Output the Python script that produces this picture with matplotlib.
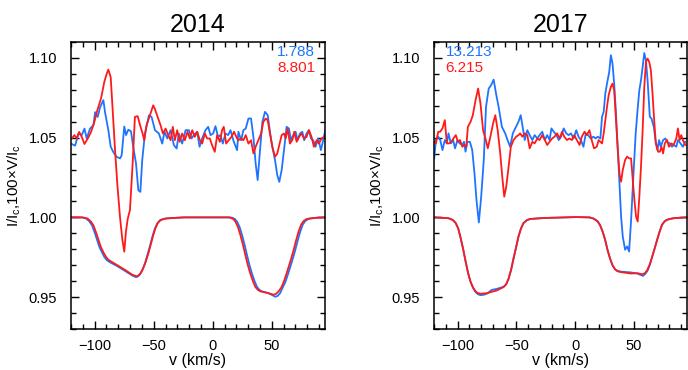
import matplotlib
matplotlib.use("Agg")
from matplotlib import pyplot as plt
from matplotlib.ticker import MultipleLocator

plt.rcParams['font.family'] = 'Liberation Sans'
plt.rcParams['mathtext.fontset'] = 'custom'
plt.rcParams['mathtext.rm'] = 'Liberation Sans'
plt.rcParams['mathtext.it'] = 'Liberation Sans:italic'

BLUE = '#1E74FF'
RED = '#FF1A1A'

# ---------------- 2014 ----------------
# Stokes I (blue / red)
v_I14_b = [-120, -111, -107.2, -104.5, -102.2, -100.2, -98.2, -96, -93.7, -91.8, -89.7, -87.4, -81, -74, -68.5,
           -66.5, -65, -63.3, -61.5, -59.5, -57.4, -55.3, -53.2, -51.1, -49, -47, -44.6, -41.3, -38.5, -24.5,
           0, 14.4, 16.4, 18.7, 20.6, 22.7, 24.8, 26.9, 29, 31.1, 33.2, 35.4, 37.5, 39.6, 41.7, 47, 51, 53, 55,
           57, 59.2, 61.4, 63.5, 65.6, 67.7, 69.8, 71.9, 74, 76.2, 78.3, 80.9, 84, 89, 95]
I14_b = [1.0, 1.0, 0.9993, 0.9975, 0.995, 0.991, 0.9865, 0.9815, 0.978, 0.9752, 0.9732, 0.972, 0.9695, 0.9663,
         0.9637, 0.963, 0.9625, 0.963, 0.9643, 0.967, 0.9712, 0.9765, 0.982, 0.988, 0.993, 0.9962, 0.9982,
         0.9991, 0.9994, 1.0, 1.0, 1.0, 0.9998, 0.999, 0.9973, 0.994, 0.9889, 0.983, 0.9763, 0.970, 0.9647,
         0.96, 0.9563, 0.9545, 0.9536, 0.9525, 0.951, 0.9502, 0.9508, 0.9525, 0.956, 0.9594, 0.964, 0.9689,
         0.974, 0.9794, 0.9855, 0.991, 0.9955, 0.9977, 0.999, 0.9994, 0.9998, 1.0]
v_I14_r = [-120, -110, -106, -103.3, -101, -99, -97, -94.8, -92.5, -90.6, -88.5, -86.4, -80.8, -73.7, -68.1,
           -66, -64.4, -62.8, -61.1, -59, -56.8, -54.7, -52.6, -50.5, -48.4, -46.5, -44.2, -41, -38.5, -24.5,
           0, 13, 15, 17.3, 19.2, 21.3, 23.4, 25.5, 27.6, 29.7, 31.8, 34, 36.1, 38.2, 40.3, 45.9, 51.5, 53.5,
           55.7, 58, 60, 62.1, 64.2, 66.3, 68.4, 70.5, 72.6, 74.8, 76.9, 79.5, 82.5, 88, 95]
I14_r = [1.0, 1.0, 0.9993, 0.9975, 0.995, 0.991, 0.9865, 0.9815, 0.978, 0.9755, 0.9735, 0.9725, 0.970, 0.9668,
         0.964, 0.9635, 0.963, 0.9636, 0.965, 0.968, 0.972, 0.977, 0.9826, 0.9885, 0.9935, 0.9965, 0.9983,
         0.9991, 0.9994, 1.0, 1.0, 1.0, 0.9998, 0.999, 0.9973, 0.994, 0.9889, 0.983, 0.9763, 0.970, 0.9647,
         0.96, 0.9563, 0.9545, 0.9536, 0.9527, 0.9515, 0.952, 0.9536, 0.956, 0.9594, 0.964, 0.9689, 0.974,
         0.9794, 0.9855, 0.991, 0.9955, 0.9977, 0.999, 0.9994, 0.9998, 1.0]

# 1.05 + 100*V/Ic (blue)
v_V14_b = [-119.3, -116.5, -113.7, -110.9, -108.6, -106.7, -103.9, -101.0, -99.6, -97.4, -95.4, -92.6, -91.2,
           -88.4, -86.4, -84.2, -81.4, -78.5, -77.1, -74.9, -73.4, -71.5, -69.2, -67.3, -65.0, -63.0, -61.3,
           -59.7, -57.4, -54.0, -51.8, -48.9, -45.6, -42.8, -40.8, -38.5, -35.7, -32.9, -30.6, -28.7, -25.9,
           -23.0, -20.2, -18.0, -16.0, -13.2, -11.2, -9.0, -6.2, -3.9, -1.9, 0.3, 2.3, 4.5, 6.5, 8.5, 10.7,
           13.0, 15.0, 17.8, 20.6, 21.7, 24.0, 25.9, 27.9, 30.2, 32.4, 34.4, 36.3, 38.0, 40.0, 42.0, 44.2,
           46.5, 48.4, 50.4, 52.7, 54.6, 56.3, 58.3, 60.3, 62.5, 64.5, 66.2, 68.2, 70.1, 71.8, 73.8, 75.8,
           77.4, 79.4, 81.4, 83.1, 85.0, 87.0, 89.3, 91.5, 93.5, 95.2]
V14_b = [1.046, 1.045, 1.0526, 1.0516, 1.0557, 1.0495, 1.0557, 1.0578, 1.066, 1.063, 1.069, 1.0735, 1.066,
         1.0547, 1.0443, 1.041, 1.038, 1.037, 1.039, 1.057, 1.0516, 1.055, 1.054, 1.044, 1.034, 1.017, 1.016,
         1.036, 1.0526, 1.064, 1.063, 1.0547, 1.0526, 1.0463, 1.0537, 1.0495, 1.0547, 1.0453, 1.0432, 1.0526,
         1.0463, 1.0547, 1.0547, 1.0495, 1.0516, 1.0537, 1.0443, 1.0495, 1.0547, 1.0568, 1.0516, 1.0526,
         1.0572, 1.0505, 1.0516, 1.0463, 1.0526, 1.0516, 1.0547, 1.0474, 1.0422, 1.0537, 1.0484, 1.0547,
         1.0557, 1.062, 1.062, 1.0505, 1.0338, 1.0234, 1.0422, 1.0599, 1.0662, 1.0641, 1.0537, 1.0443,
         1.0359, 1.0265, 1.0223, 1.0296, 1.0422, 1.0568, 1.0557, 1.0484, 1.0516, 1.0537, 1.0484, 1.0526,
         1.0537, 1.0484, 1.0526, 1.0547, 1.0495, 1.0484, 1.0443, 1.0495, 1.0422, 1.0484, 1.0547]
# 1.05 + 100*V/Ic (red)
v_V14_r = [-119.3, -117.1, -115.1, -113.1, -110.9, -108.6, -105.8, -103.0, -100.2, -97.4, -94.6, -91.8, -89.8,
           -88.4, -86.4, -84.7, -82.7, -80.8, -78.5, -76.5, -74.9, -73.5, -72.0, -70.1, -67.8, -65.9, -63.6,
           -61.6, -59.4, -58.0, -56.0, -53.2, -50.4, -49.0, -46.2, -44.2, -42.2, -39.9, -37.7, -35.7, -33.8,
           -32.1, -30.1, -28.1, -25.9, -23.6, -21.4, -19.4, -17.4, -15.2, -13.2, -10.9, -9.0, -6.7, -4.8, -2.5,
           -0.6, 1.7, 3.7, 6.0, 7.9, 9.3, 11.3, 13.5, 15.8, 18.0, 20.6, 21.7, 24.0, 25.9, 27.9, 30.2, 32.4,
           34.4, 36.3, 38.6, 40.9, 42.8, 44.8, 46.5, 48.4, 50.4, 52.7, 54.6, 56.3, 58.3, 60.3, 61.7, 63.4,
           65.3, 67.3, 69.0, 71.0, 73.0, 75.2, 77.2, 79.4, 81.4, 83.6, 85.6, 87.9, 89.8, 92.1, 95.2]
V14_r = [1.0495, 1.0516, 1.0495, 1.0536, 1.0505, 1.046, 1.0495, 1.0536, 1.060, 1.068, 1.0745, 1.085, 1.090,
         1.0927, 1.088, 1.067, 1.042, 1.021, 1.000, 0.9858, 0.9785, 0.991, 0.999, 1.0046, 1.034, 1.063,
         1.0635, 1.058, 1.0526, 1.0484, 1.058, 1.064, 1.0703, 1.068, 1.062, 1.0578, 1.0526, 1.0557, 1.0516,
         1.0484, 1.0568, 1.0484, 1.0547, 1.0474, 1.0526, 1.0484, 1.0537, 1.0495, 1.0547, 1.0505, 1.0537,
         1.0484, 1.0463, 1.0526, 1.0495, 1.0495, 1.0453, 1.0411, 1.0516, 1.0474, 1.0547, 1.0568, 1.0463,
         1.0484, 1.0505, 1.0537, 1.0495, 1.0484, 1.0495, 1.0484, 1.0516, 1.0463, 1.0484, 1.0401, 1.0443,
         1.0484, 1.0526, 1.0599, 1.062, 1.061, 1.0526, 1.0443, 1.038, 1.0401, 1.0453, 1.0516, 1.0526,
         1.0495, 1.0557, 1.0463, 1.0484, 1.0537, 1.0474, 1.0505, 1.0526, 1.0495, 1.0505, 1.0547, 1.0505,
         1.0443, 1.0484, 1.0463, 1.0495, 1.051]

# ---------------- 2017 ----------------
v_I17_b = [-120, -108, -105.7, -103.5, -101.5, -99.4, -97.3, -95.2, -93.1, -91, -88.9, -86.8, -84.7, -82.6,
           -80.5, -77.5, -74.9, -71, -66.5, -60.9, -58.7, -56.6, -54.5, -52.4, -50.3, -48.2, -46.1, -44.0,
           -41.2, -38.4, -27.2, 0.8, 12.1, 15.8, 19.1, 21.2, 23.3, 25.4, 27.5, 29.6, 31.7, 33.8, 35.9, 38.8,
           41.6, 47.1, 52.8, 57.5, 59.5, 61.5, 63.5, 65.4, 67.5, 69.6, 71.7, 73.8, 76, 78.0, 81.5, 85.0, 95]
I17_b = [1.0, 0.9995, 0.999, 0.998, 0.9964, 0.993, 0.9869, 0.98, 0.9722, 0.965, 0.9595, 0.9558, 0.9532,
         0.9518, 0.9512, 0.9515, 0.9522, 0.9545, 0.9552, 0.9565, 0.958, 0.9616, 0.967, 0.9743, 0.981, 0.988,
         0.993, 0.9964, 0.9982, 0.999, 0.9996, 1.0002, 1.0, 0.9992, 0.9975, 0.995, 0.9911, 0.986, 0.9795,
         0.9742, 0.970, 0.9675, 0.9665, 0.966, 0.9658, 0.9655, 0.9648, 0.9633, 0.9645, 0.9666, 0.9703,
         0.9753, 0.9805, 0.9859, 0.991, 0.9954, 0.9975, 0.9985, 0.9992, 0.9996, 1.0]
v_I17_r = [-120, -108, -105.7, -103.5, -101.5, -99.4, -97.3, -95.2, -93.1, -91, -88.9, -86.8, -84.7, -82.6,
           -80.5, -74.9, -66.5, -60.9, -58.7, -56.6, -54.5, -52.4, -50.3, -48.2, -46.1, -44.0, -41.2, -38.4,
           -27.2, 0.8, 12.1, 15.8, 19.1, 21.2, 23.3, 25.4, 27.5, 29.6, 31.7, 33.8, 35.9, 38.8, 41.6, 47.1,
           52.8, 57.0, 59.1, 61.2, 63.3, 65.4, 67.5, 69.6, 71.7, 73.8, 76, 78.0, 81.5, 85.0, 95]
I17_r = [1.0, 0.9995, 0.999, 0.998, 0.9964, 0.993, 0.9869, 0.98, 0.9722, 0.965, 0.9595, 0.956, 0.9536,
         0.9525, 0.9521, 0.9525, 0.9542, 0.9563, 0.958, 0.9616, 0.967, 0.9743, 0.981, 0.988, 0.993, 0.9964,
         0.9982, 0.999, 0.9996, 1.0002, 1.0, 0.9992, 0.9975, 0.995, 0.9911, 0.986, 0.9795, 0.9742, 0.970,
         0.9675, 0.9662, 0.9657, 0.9654, 0.9648, 0.965, 0.9643, 0.965, 0.9669, 0.9705, 0.9753, 0.9805,
         0.9859, 0.991, 0.9954, 0.9975, 0.9985, 0.9992, 0.9996, 1.0]

v_V17_b = [-119.8, -118.4, -116.4, -114.7, -112.8, -110.8, -109.1, -107.7, -105.7, -103.8, -102.1, -100.1,
           -98.2, -95.9, -94.5, -93.2, -91.7, -89.5, -87.5, -85.6, -83.9, -81.9, -79.9, -77.7, -75.8, -73.5,
           -71.5, -69.3, -67.3, -65.1, -62.3, -59.5, -57.5, -55.3, -53.0, -51.0, -48.2, -46.3, -44.0, -42.9,
           -40.7, -38.7, -36.4, -34.5, -32.2, -30.3, -28.0, -25.8, -23.8, -21.8, -20.2, -18.2, -15.9, -14.0,
           -12.0, -9.8, -7.6, -5.6, -3.6, -1.4, 0.9, 2.8, 4.8, 7.0, 9.0, 10.9, 13.2, 15.5, 17.4, 19.1, 21.4,
           22.8, 24.2, 25.6, 27.0, 28.9, 30.3, 31.7, 33.1, 34.5, 36.2, 37.6, 39.0, 40.4, 42.4, 44.1, 45.8,
           47.5, 49.4, 51.4, 53.1, 54.5, 55.9, 57.3, 58.7, 60.1, 61.5, 63.4, 64.8, 66.8, 68.2, 69.9, 71.3,
           72.7, 74.7, 76.6, 78.3, 80.3, 82.2, 83.9, 85.9, 87.3, 89.5, 91.5, 93.5]
V17_b = [1.0370, 1.0485, 1.0506, 1.0485, 1.0422, 1.0485, 1.0464, 1.0527, 1.0464, 1.0485, 1.0433, 1.0485,
         1.0464, 1.0454, 1.0474, 1.0412, 1.0474, 1.0474, 1.0422, 1.0276, 1.0109, 0.9968, 1.0130, 1.0360,
         1.0693, 1.0808, 1.0829, 1.0864, 1.0777, 1.0693, 1.0568, 1.0527, 1.0485, 1.0443, 1.0527, 1.0558,
         1.0600, 1.0641, 1.0537, 1.0485, 1.0547, 1.0516, 1.0485, 1.0516, 1.0495, 1.0516, 1.0537, 1.0485,
         1.0516, 1.0485, 1.0558, 1.0537, 1.0516, 1.0485, 1.0506, 1.0558, 1.0527, 1.0516, 1.0527, 1.0495,
         1.0547, 1.0506, 1.0485, 1.0443, 1.0527, 1.0516, 1.0495, 1.0506, 1.0495, 1.0506, 1.0495, 1.0631,
         1.0662, 1.0777, 1.0839, 1.0912, 1.1017, 1.0965, 1.0839, 1.0673, 1.0422, 1.0214, 1.0005, 0.9880,
         0.9797, 0.9818, 0.9786, 0.9984, 1.0255, 1.0527, 1.0683, 1.0798, 1.0860, 1.0944, 1.1031, 1.0985,
         1.0860, 1.0631, 1.0620, 1.0568, 1.0485, 1.0422, 1.0485, 1.0443, 1.0485, 1.0495, 1.0474, 1.0464,
         1.0443, 1.0454, 1.0443, 1.0485, 1.0464, 1.0443, 1.0474]
v_V17_r = [-119.8, -118.4, -116.4, -114.7, -112.8, -110.8, -109.1, -107.2, -105.2, -103.5, -101.5, -99.6,
           -97.9, -95.9, -94.0, -92.6, -91.2, -88.9, -87.0, -84.7, -82.5, -80.5, -78.3, -76.3, -74.3, -72.1,
           -69.8, -67.9, -65.9, -63.7, -62.0, -60.3, -58.6, -56.6, -54.7, -52.4, -50.2, -48.2, -46.8, -44.9,
           -42.9, -40.7, -38.7, -36.4, -34.5, -32.2, -30.3, -28.0, -25.8, -23.8, -21.8, -19.6, -17.6, -15.4,
           -13.2, -11.2, -9.3, -7.0, -5.0, -2.8, -0.8, 1.4, 3.7, 5.6, 7.9, 9.8, 12.1, 14.0, 16.0, 18.3, 19.9,
           21.4, 22.8, 24.2, 25.6, 27.0, 28.4, 30.3, 31.7, 33.1, 34.5, 36.2, 37.6, 39.0, 40.4, 42.4, 44.1,
           45.8, 47.5, 48.9, 50.3, 51.7, 53.1, 54.5, 55.9, 57.3, 58.7, 60.1, 61.5, 62.9, 64.3, 65.7, 67.1,
           68.5, 70.4, 71.9, 73.3, 74.7, 76.1, 78.0, 79.7, 81.7, 83.6, 85.9, 87.3, 88.7, 90.1, 91.5, 93.5]
V17_r = [1.0474, 1.0464, 1.0537, 1.0537, 1.0558, 1.0610, 1.0464, 1.0464, 1.0474, 1.0495, 1.0516, 1.0474,
         1.0485, 1.0443, 1.0454, 1.0443, 1.0568, 1.0600, 1.0641, 1.0735, 1.0808, 1.0714, 1.0547, 1.0495,
         1.0433, 1.0506, 1.0589, 1.0641, 1.0547, 1.0401, 1.0255, 1.0130, 1.0193, 1.0318, 1.0443, 1.0485,
         1.0506, 1.0516, 1.0527, 1.0506, 1.0527, 1.0516, 1.0433, 1.0474, 1.0464, 1.0495, 1.0485, 1.0516,
         1.0485, 1.0454, 1.0474, 1.0495, 1.0506, 1.0527, 1.0495, 1.0537, 1.0506, 1.0485, 1.0495, 1.0485,
         1.0516, 1.0485, 1.0454, 1.0506, 1.0537, 1.0516, 1.0547, 1.0485, 1.0433, 1.0443, 1.0485, 1.0474,
         1.0464, 1.0527, 1.0610, 1.0693, 1.0766, 1.0819, 1.0839, 1.0798, 1.0631, 1.0422, 1.0276, 1.0224,
         1.0297, 1.0360, 1.0381, 1.0370, 1.0370, 1.0235, 1.0109, 1.0005, 0.9974, 1.0130, 1.0318, 1.0547,
         1.0819, 1.0975, 1.0996, 1.0975, 1.0923, 1.0777, 1.0610, 1.0464, 1.0412, 1.0412, 1.0443, 1.0401,
         1.0464, 1.0485, 1.0443, 1.0464, 1.0454, 1.0495, 1.0558, 1.0485, 1.0516, 1.0485, 1.0454]

titles = ['2014', '2017']
labels_b = ['1.788', '13.213']
labels_r = ['8.801', '6.215']

panels = [
    (v_I14_b, I14_b, v_I14_r, I14_r, v_V14_b, V14_b, v_V14_r, V14_r),
    (v_I17_b, I17_b, v_I17_r, I17_r, v_V17_b, V17_b, v_V17_r, V17_r),
]

W, H = 688., 370.
fig = plt.figure(figsize=(6.88, 3.70), dpi=100)
boxes = [[71/W, 1 - 329/H, 254/W, 287/H],
         [434/W, 1 - 329/H, 253/W, 287/H]]

for k in range(2):
    ax = fig.add_axes(boxes[k])
    vIb, Ib, vIr, Ir, vVb, Vb, vVr, Vr = panels[k]
    ax.plot(vIb, Ib, color=BLUE, lw=1.3)
    ax.plot(vIr, Ir, color=RED, lw=1.3)
    ax.plot(vVb, Vb, color=BLUE, lw=1.3)
    ax.plot(vVr, Vr, color=RED, lw=1.3)

    ax.set_xlim(-120, 95)
    ax.set_ylim(0.93, 1.11)
    ax.xaxis.set_major_locator(MultipleLocator(50))
    ax.xaxis.set_minor_locator(MultipleLocator(10))
    ax.yaxis.set_minor_locator(MultipleLocator(0.01))
    ax.set_yticks([0.95, 1.00, 1.05, 1.10])
    ax.set_yticklabels(['0.95', '1.00', '1.05', '1.10'])
    ax.tick_params(which='both', direction='in', top=True, right=True, labelsize=10.5, width=1)
    ax.tick_params(which='major', length=6)
    ax.tick_params(which='minor', length=3.5)
    ax.tick_params(axis='x', which='major', pad=7)
    ax.tick_params(axis='y', which='major', pad=10)
    for s in ax.spines.values():
        s.set_linewidth(1.1)

    ax.set_title(titles[k], fontsize=18, pad=7)
    ax.set_xlabel('v (km/s)', fontsize=11.5, labelpad=0)
    ax.set_ylabel(r'I/I$_\mathrm{c}$,100×V/I$_\mathrm{c}$', fontsize=11)
    ax.yaxis.set_label_coords(-0.19, 0.5)

    if k == 0:
        ax.text(0.961, 0.965, labels_b[k], color=BLUE, fontsize=11, ha='right', va='center', transform=ax.transAxes)
        ax.text(0.961, 0.909, labels_r[k], color=RED, fontsize=11, ha='right', va='center', transform=ax.transAxes)
    else:
        ax.text(0.046, 0.965, labels_b[k], color=BLUE, fontsize=11, ha='left', va='center', transform=ax.transAxes)
        ax.text(0.046, 0.909, labels_r[k], color=RED, fontsize=11, ha='left', va='center', transform=ax.transAxes)

plt.savefig('out.png', dpi=100)
